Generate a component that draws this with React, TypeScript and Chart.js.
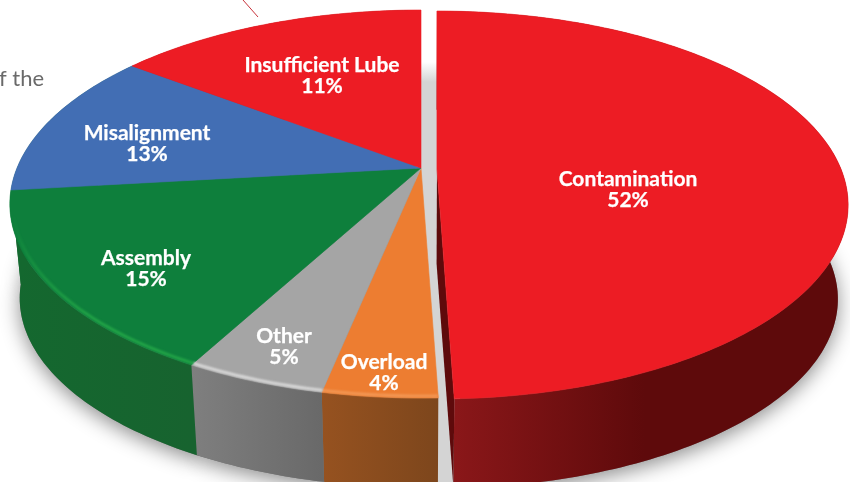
import React, { useEffect, useRef } from "react";
import { Chart, registerables, ArcElement, PieController } from "chart.js";

const categories = ["Contamination", "Overload", "Other", "Assembly", "Misalignment", "Insufficient Lube"];
const shares = [52, 4, 5, 15, 13, 11];

const topColors = ["#ed1c24", "#ed7d31", "#a5a5a5", "#0e7f3c", "#426eb4", "#ed1c24"];
const wallFrom = ["#8a1719", "#965220", "#7f7f7f", "#14682f", "#14682f", "#8a1719"];
const wallTo = ["#5e0a0b", "#7d461c", "#696969", "#17632f", "#14682f", "#8a1719"];
const rimColors = [null, "#f39a58", "#dedede", "#24a848", null, null];
const sliceOffsets = [16, 0, 0, 0, 0, 0];
const labelCentres = [[628, 189], [384, 372], [284, 346], [146, 268], [147, 143], [322, 75]];

// View of the tilted disc: a perspective map from the unit circle to the page.
const PIVOT_X = 421, PIVOT_Y = 168, SCALE_X = 404, SCALE_Y = 187.3, TILT = -0.1856;
const DEPTH = 95, FAR_SCALE = 0.976;

// The source drawing's slices are not exactly to scale: the angle is eased to follow it.
const easeFrom = [0, 187.2, 201.6, 219.6, 273.6, 320.4, 360];
const easeTo = [0, 178, 191.6, 208.4, 263.4, 307.3, 360];
function easeAngle(t: number) {
  for (let i = 1; i < easeFrom.length; i++) {
    if (t <= easeFrom[i] + 1e-6) {
      const f = (t - easeFrom[i - 1]) / (easeFrom[i] - easeFrom[i - 1]);
      return easeTo[i - 1] + f * (easeTo[i] - easeTo[i - 1]);
    }
  }
  return t;
}
function project(u: number, v: number, level: number, sx: number, sy: number) {
  const den = 1 + TILT * v;
  const s = level ? FAR_SCALE : 1;
  return [
    PIVOT_X + s * (sx + (SCALE_X * u) / den),
    PIVOT_Y + level * DEPTH + s * (sy + (SCALE_Y * v) / den),
  ];
}

class Arc3D extends ArcElement {
  static id = "arc3d";
  static defaults = { ...ArcElement.defaults };
  rim(level: number, factor = 1, reverse = false) {
    const { sx, sy, a, b } = this.frame();
    const pts: number[][] = [];
    const n = Math.max(2, Math.ceil(b - a));
    for (let i = 0; i <= n; i++) {
      const d = ((a + ((b - a) * i) / n) * Math.PI) / 180;
      pts.push(project(factor * Math.sin(d), -factor * Math.cos(d), level, sx, sy));
    }
    return reverse ? pts.reverse() : pts;
  }
  frame() {
    const self = this as any;
    const a = easeAngle(((self.startAngle + Math.PI / 2) * 180) / Math.PI);
    const b = easeAngle(((self.endAngle + Math.PI / 2) * 180) / Math.PI);
    const off = self.options.offset || 0;
    const mid = (self.startAngle + self.endAngle) / 2;
    return { a, b, off, sx: off * Math.cos(mid), sy: off * Math.sin(mid) };
  }
  trace(ctx: CanvasRenderingContext2D, pts: number[][]) {
    ctx.beginPath();
    pts.forEach((p, i) => (i ? ctx.lineTo(p[0], p[1]) : ctx.moveTo(p[0], p[1])));
    ctx.closePath();
  }
  drawShadow(ctx: CanvasRenderingContext2D) {
    const { sx, sy } = this.frame();
    ctx.save();
    ctx.shadowColor = "rgba(0,0,0,0.45)";
    ctx.shadowBlur = 20;
    ctx.shadowOffsetY = 5;
    ctx.fillStyle = "#777";
    this.trace(ctx, [project(0, 0, 1, sx, sy), ...this.rim(1)]);
    ctx.fill();
    ctx.restore();
  }
  drawWall(ctx: CanvasRenderingContext2D, index: number) {
    const { sx, sy, off } = this.frame();
    const top = this.rim(0);
    const bottom = this.rim(1, 1, true);
    const xs = top.map((p) => p[0]).filter((_, i) => top[i][1] > PIVOT_Y);
    const lo = Math.min(...(xs.length ? xs : [0]));
    const hi = Math.max(...(xs.length ? xs : [1]));
    const span = index === 0 ? lo + 190 : hi;
    const g = ctx.createLinearGradient(lo, 0, span, 0);
    g.addColorStop(0, wallFrom[index]);
    g.addColorStop(1, wallTo[index]);
    ctx.fillStyle = g;
    this.trace(ctx, [...top, ...bottom]);
    ctx.fill();
    if (off) {
      const end = top.length - 1;
      ctx.fillStyle = "#5e0a0b";
      this.trace(ctx, [project(0, 0, 0, sx, sy), top[end], this.rim(1)[end], project(0, 0, 1, sx, sy)]);
      ctx.fill();
    }
  }
  draw(ctx: CanvasRenderingContext2D) {
    const self = this as any;
    const { sx, sy } = this.frame();
    const color = self.options.backgroundColor;
    ctx.save();
    ctx.fillStyle = color;
    ctx.strokeStyle = color;
    ctx.lineWidth = 0.6;
    this.trace(ctx, [project(0, 0, 0, sx, sy), ...this.rim(0)]);
    ctx.fill();
    ctx.stroke();
    ctx.restore();
  }
  drawRim(ctx: CanvasRenderingContext2D, index: number) {
    const color = rimColors[index];
    if (!color) return;
    const pts = this.rim(0, 0.993);
    const fade = ctx.createLinearGradient(0, 215, 0, 320);
    fade.addColorStop(0, color + "00");
    fade.addColorStop(1, color);
    ctx.save();
    ctx.strokeStyle = fade;
    ctx.lineWidth = 2.6;
    ctx.filter = "blur(0.8px)";
    ctx.beginPath();
    pts.forEach((p, i) => (i ? ctx.lineTo(p[0], p[1]) : ctx.moveTo(p[0], p[1])));
    ctx.stroke();
    ctx.restore();
  }
}

class Pie3D extends PieController {
  static id = "pie3d";
  static defaults = { dataElementType: "arc3d" };
}

Chart.register(...registerables, Arc3D, Pie3D);

const scenePlugin = {
  id: "scene",
  beforeDatasetsDraw(chart: any) {
    const ctx: CanvasRenderingContext2D = chart.ctx;
    const arcs = chart.getDatasetMeta(0).data;
    arcs.forEach((a: any) => a.drawShadow(ctx));
    ctx.save();
    ctx.fillStyle = "#ffffff";
    ctx.fillRect(415, 0, 30, 82);
    const band = ctx.createLinearGradient(0, 62, 0, 82);
    band.addColorStop(0, "rgba(212,212,212,0)");
    band.addColorStop(1, "#d4d4d4");
    ctx.fillStyle = band;
    ctx.fillRect(415, 62, 45, 20);
    ctx.fillStyle = "#d4d4d4";
    ctx.fillRect(415, 82, 45, 400);
    ctx.restore();
    arcs.forEach((a: any, i: number) => a.drawWall(ctx, i));
  },
  afterDatasetsDraw(chart: any) {
    const ctx: CanvasRenderingContext2D = chart.ctx;
    const arcs = chart.getDatasetMeta(0).data;
    arcs.forEach((a: any, i: number) => a.drawRim(ctx, i));
    ctx.save();
    ctx.fillStyle = "#ffffff";
    ctx.strokeStyle = "#ffffff";
    ctx.lineWidth = 0.25;
    ctx.textAlign = "center";
    ctx.textBaseline = "middle";
    ctx.font = "bold 21px Lato";
    categories.forEach((name, i) => {
      const [x, y] = labelCentres[i];
      ctx.fillText(name, x, y - 10);
      ctx.strokeText(name, x, y - 10);
      ctx.fillText(`${shares[i]}%`, x, y + 11);
      ctx.strokeText(`${shares[i]}%`, x, y + 11);
    });
    ctx.restore();
    ctx.save();
    ctx.strokeStyle = "#c8323a";
    ctx.lineWidth = 1;
    ctx.beginPath();
    ctx.moveTo(243, 0);
    ctx.lineTo(258, 17);
    ctx.stroke();
    ctx.fillStyle = "#6a6a6a";
    ctx.font = "22px Lato";
    ctx.textAlign = "left";
    ctx.textBaseline = "alphabetic";
    ctx.fillText("f the", -1, 86);
    ctx.restore();
  },
};

export default function App() {
  const ref = useRef<HTMLCanvasElement>(null);
  useEffect(() => {
    const chart = new Chart(ref.current!, {
      type: "pie3d" as any,
      data: {
        labels: categories,
        datasets: [{ data: shares, backgroundColor: topColors, offset: sliceOffsets, borderWidth: 0 }],
      },
      options: {
        animation: false,
        responsive: false,
        plugins: { legend: { display: false }, tooltip: { enabled: false } },
      },
      plugins: [scenePlugin],
    } as any);
    return () => chart.destroy();
  }, []);
  return (
    <div style={{ position: "fixed", left: 0, top: 0, width: 850, height: 482, overflow: "hidden", background: "#fff" }}>
      <canvas ref={ref} width={850} height={482} style={{ display: "block" }} />
    </div>
  );
}
